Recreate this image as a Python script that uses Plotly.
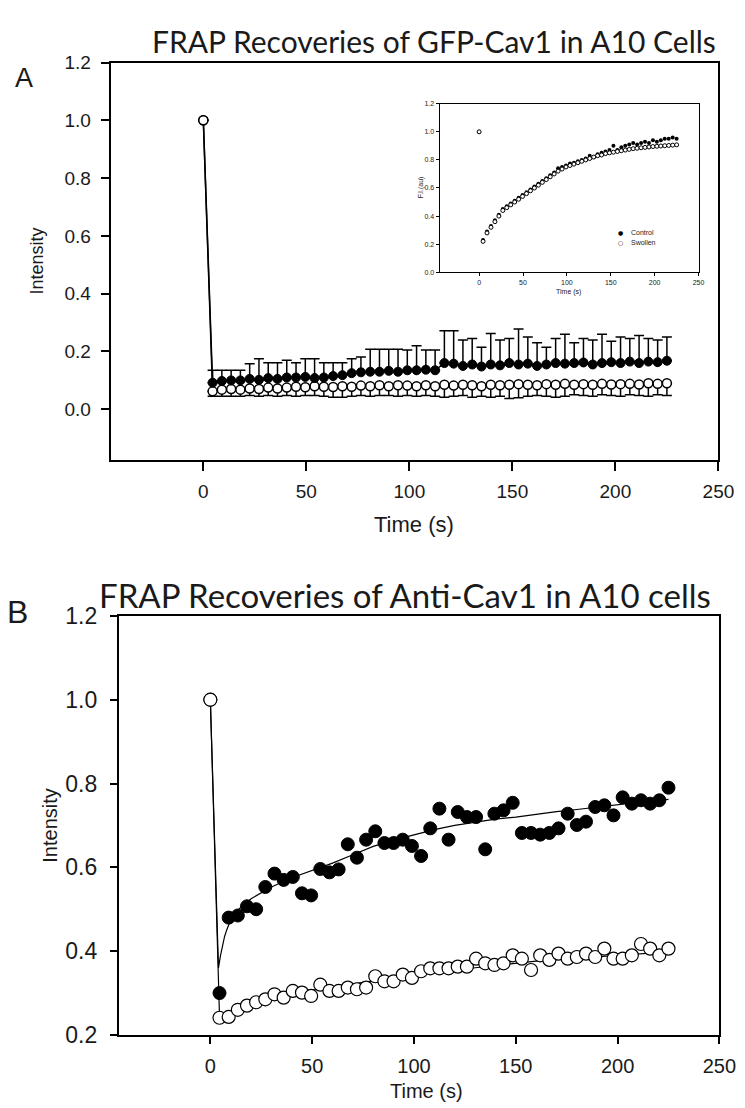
import plotly.graph_objects as go

# ---------------- data ----------------
time_s = [0, 4.5, 9, 13.5, 18, 22.5, 27, 31.5, 36, 40.5, 45, 49.5, 54, 58.5, 63, 67.5, 72,
          76.5, 81, 85.5, 90, 94.5, 99, 103.5, 108, 112.5, 117, 121.5, 126, 130.5, 135,
          139.5, 144, 148.5, 153, 157.5, 162, 166.5, 171, 175.5, 180, 184.5, 189, 193.5,
          198, 202.5, 207, 211.5, 216, 220.5, 225]

# Panel A: GFP-Cav1 (means and error-bar cap values)
a_control = [1.0, 0.092, 0.098, 0.100, 0.100, 0.105, 0.102, 0.108, 0.105, 0.110, 0.110,
             0.112, 0.108, 0.110, 0.115, 0.118, 0.125, 0.128, 0.130, 0.130, 0.133,
             0.130, 0.135, 0.135, 0.137, 0.135, 0.160, 0.158, 0.150, 0.155, 0.148,
             0.155, 0.152, 0.160, 0.155, 0.158, 0.150, 0.155, 0.160, 0.158, 0.160,
             0.162, 0.155, 0.160, 0.163, 0.160, 0.165, 0.160, 0.165, 0.163, 0.168]
a_control_cap = [1.0, 0.135, 0.135, 0.135, 0.135, 0.158, 0.175, 0.161, 0.161, 0.170, 0.161,
                 0.175, 0.175, 0.161, 0.161, 0.161, 0.175, 0.181, 0.208, 0.208, 0.208,
                 0.208, 0.205, 0.220, 0.205, 0.205, 0.272, 0.272, 0.240, 0.245, 0.215,
                 0.262, 0.240, 0.245, 0.278, 0.250, 0.230, 0.215, 0.245, 0.260, 0.230,
                 0.245, 0.240, 0.260, 0.235, 0.250, 0.245, 0.255, 0.245, 0.240, 0.250]
a_swollen = [1.0, 0.062, 0.068, 0.070, 0.068, 0.072, 0.070, 0.075, 0.072, 0.075, 0.078,
             0.076, 0.080, 0.078, 0.077, 0.080, 0.078, 0.082, 0.080, 0.083, 0.080,
             0.083, 0.082, 0.080, 0.083, 0.080, 0.085, 0.082, 0.085, 0.083, 0.080,
             0.085, 0.083, 0.085, 0.087, 0.085, 0.083, 0.087, 0.085, 0.088, 0.085,
             0.087, 0.085, 0.088, 0.086, 0.087, 0.088, 0.086, 0.090, 0.088, 0.090]
a_swollen_cap = [1.0, 0.045, 0.045, 0.045, 0.045, 0.048, 0.045, 0.048, 0.045, 0.048, 0.045,
                 0.048, 0.048, 0.045, 0.042, 0.042, 0.045, 0.048, 0.045, 0.048, 0.048,
                 0.045, 0.048, 0.045, 0.048, 0.045, 0.042, 0.045, 0.048, 0.042, 0.045,
                 0.042, 0.045, 0.037, 0.040, 0.045, 0.048, 0.045, 0.042, 0.045, 0.050,
                 0.048, 0.045, 0.050, 0.048, 0.045, 0.050, 0.048, 0.045, 0.050, 0.048]

# Inset (F.I. in au)
inset_control = [1.0, 0.23, 0.29, 0.33, 0.37, 0.41, 0.45, 0.47, 0.49, 0.51, 0.53,
                 0.55, 0.57, 0.59, 0.61, 0.63, 0.65, 0.67, 0.69, 0.71, 0.74,
                 0.75, 0.76, 0.775, 0.78, 0.79, 0.80, 0.81, 0.83, 0.82, 0.84,
                 0.85, 0.86, 0.87, 0.90, 0.87, 0.89, 0.90, 0.91, 0.92, 0.91,
                 0.92, 0.93, 0.92, 0.94, 0.93, 0.94, 0.95, 0.95, 0.96, 0.95]
inset_swollen = [1.0, 0.22, 0.28, 0.32, 0.36, 0.40, 0.44, 0.46, 0.48, 0.50, 0.52,
                 0.54, 0.56, 0.58, 0.60, 0.62, 0.64, 0.66, 0.68, 0.70, 0.72,
                 0.735, 0.75, 0.76, 0.77, 0.78, 0.79, 0.80, 0.81, 0.82, 0.83,
                 0.835, 0.845, 0.85, 0.855, 0.86, 0.865, 0.87, 0.875, 0.88, 0.883,
                 0.886, 0.889, 0.892, 0.895, 0.897, 0.899, 0.901, 0.903, 0.905, 0.907]
inset_legend = ["Control", "Swollen"]

# Panel B: Anti-Cav1
b_control = [1.0, 0.300, 0.480, 0.485, 0.507, 0.500, 0.553, 0.585, 0.570, 0.577, 0.538,
             0.533, 0.596, 0.588, 0.595, 0.655, 0.623, 0.666, 0.686, 0.658, 0.658,
             0.666, 0.651, 0.627, 0.693, 0.740, 0.666, 0.732, 0.720, 0.720, 0.643,
             0.728, 0.736, 0.754, 0.682, 0.682, 0.678, 0.682, 0.693, 0.728, 0.701,
             0.709, 0.744, 0.748, 0.724, 0.767, 0.752, 0.760, 0.752, 0.760, 0.790]
b_swollen = [1.0, 0.241, 0.243, 0.260, 0.270, 0.278, 0.285, 0.297, 0.289, 0.305, 0.301,
             0.293, 0.320, 0.305, 0.305, 0.313, 0.309, 0.313, 0.340, 0.328, 0.328,
             0.344, 0.336, 0.352, 0.359, 0.359, 0.359, 0.363, 0.363, 0.382, 0.371,
             0.367, 0.371, 0.390, 0.382, 0.355, 0.390, 0.379, 0.394, 0.382, 0.386,
             0.394, 0.386, 0.406, 0.382, 0.382, 0.390, 0.417, 0.406, 0.390, 0.406]

# Panel B fitted curves
fit_control_t = [0, 4, 5, 6, 7, 8, 10, 12, 15, 20, 25, 30, 40, 50, 60, 70, 80, 90, 100,
                 110, 120, 130, 140, 150, 160, 170, 180, 190, 200, 210, 225]
fit_control_v = [1.0, 0.36, 0.39, 0.415, 0.435, 0.45, 0.475, 0.49, 0.505, 0.525, 0.54,
                 0.553, 0.575, 0.593, 0.61, 0.63, 0.65, 0.665, 0.678, 0.69, 0.70, 0.708,
                 0.715, 0.72, 0.727, 0.733, 0.738, 0.744, 0.75, 0.755, 0.762]
fit_swollen_t = [0, 4.5, 10, 20, 30, 40, 50, 60, 70, 80, 90, 100, 120, 140, 160, 180, 200, 225]
fit_swollen_v = [1.0, 0.245, 0.255, 0.272, 0.287, 0.298, 0.307, 0.315, 0.322, 0.329, 0.336,
                 0.343, 0.355, 0.366, 0.376, 0.383, 0.39, 0.398]

x_ticks = [0, 50, 100, 150, 200, 250]
a_y_ticks = [0.0, 0.2, 0.4, 0.6, 0.8, 1.0, 1.2]
b_y_ticks = [0.2, 0.4, 0.6, 0.8, 1.0, 1.2]

# ---------------- figure ----------------
W, H = 745, 1108
fig = go.Figure()

def px_x(v):
    return v / W

def px_y(v):
    return 1 - v / H

ARIAL = "Liberation Sans, Arial, sans-serif"
NARROW = "Liberation Sans Narrow, Arial Narrow, Liberation Sans, sans-serif"
TITLE_FONT = "Lato, Open Sans, sans-serif"
INK = "#1a1a1a"

# Panel A traces
fig.add_trace(go.Scatter(
    x=time_s, y=a_swollen, mode="lines+markers", xaxis="x", yaxis="y",
    line=dict(color="black", width=1.5),
    marker=dict(symbol="circle", size=9, color="white", line=dict(color="black", width=1.5)),
    error_y=dict(type="data", symmetric=False,
                 array=[0 for _ in a_swollen],
                 arrayminus=[m - c for m, c in zip(a_swollen, a_swollen_cap)],
                 color="black", thickness=1.5, width=5),
    showlegend=False))
fig.add_trace(go.Scatter(
    x=time_s, y=a_control, mode="lines+markers", xaxis="x", yaxis="y",
    line=dict(color="black", width=1.5),
    marker=dict(symbol="circle", size=9, color="black", line=dict(color="black", width=1)),
    error_y=dict(type="data", symmetric=False,
                 array=[c - m for m, c in zip(a_control, a_control_cap)],
                 arrayminus=[0 for _ in a_control],
                 color="black", thickness=1.5, width=5),
    showlegend=False))
# redraw the first open point on top
fig.add_trace(go.Scatter(
    x=time_s[:1], y=a_swollen[:1], mode="markers", xaxis="x", yaxis="y",
    marker=dict(symbol="circle", size=9, color="white", line=dict(color="black", width=1.5)),
    showlegend=False))

# Inset traces
fig.add_trace(go.Scatter(
    x=time_s, y=inset_control, mode="markers", xaxis="x2", yaxis="y2", name=inset_legend[0],
    marker=dict(symbol="circle", size=4, color="black"), showlegend=False))
fig.add_trace(go.Scatter(
    x=time_s, y=inset_swollen, mode="markers", xaxis="x2", yaxis="y2", name=inset_legend[1],
    marker=dict(symbol="circle", size=4, color="white", line=dict(color="black", width=1)),
    showlegend=False))

# Panel B traces
fig.add_trace(go.Scatter(
    x=fit_control_t, y=fit_control_v, mode="lines", xaxis="x3", yaxis="y3",
    line=dict(color="black", width=1.2), showlegend=False))
fig.add_trace(go.Scatter(
    x=fit_swollen_t, y=fit_swollen_v, mode="lines", xaxis="x3", yaxis="y3",
    line=dict(color="black", width=1.2), showlegend=False))
fig.add_trace(go.Scatter(
    x=time_s, y=b_control, mode="markers", xaxis="x3", yaxis="y3",
    marker=dict(symbol="circle", size=13, color="black", line=dict(color="black", width=1)),
    showlegend=False))
fig.add_trace(go.Scatter(
    x=time_s, y=b_swollen, mode="markers", xaxis="x3", yaxis="y3",
    marker=dict(symbol="circle", size=13, color="white", line=dict(color="black", width=1.2)),
    showlegend=False))

axis_common = dict(showline=True, linecolor="black", linewidth=1.8, mirror=True,
                   ticks="outside", tickcolor="black", tickwidth=1.5,
                   showgrid=False, zeroline=False)
inset_axis = {**axis_common, "linewidth": 1.2, "tickwidth": 1}

fig.update_layout(
    width=W, height=H,
    margin=dict(l=0, r=0, t=0, b=0),
    paper_bgcolor="white", plot_bgcolor="white",
    showlegend=False,
    xaxis=dict(domain=[px_x(105), px_x(727)], range=[-45, 250], anchor="y",
               tickvals=x_ticks, ticklen=9, ticklabelstandoff=4,
               tickfont=dict(family=ARIAL, size=19, color=INK), **axis_common),
    yaxis=dict(domain=[px_y(450), px_y(42.5)], range=[-0.177, 1.2], anchor="x",
               tickvals=a_y_ticks, tickformat=".1f", ticklen=8, ticklabelstandoff=6,
               tickfont=dict(family=ARIAL, size=19, color=INK), **axis_common),
    xaxis2=dict(domain=[px_x(441.7), px_x(706.7)], range=[-45, 250], anchor="y2",
                tickvals=x_ticks, ticklen=3,
                tickfont=dict(family=ARIAL, size=7, color=INK), **inset_axis),
    yaxis2=dict(domain=[px_y(257.3), px_y(84.7)], range=[0, 1.2], anchor="x2",
                tickvals=a_y_ticks, tickformat=".1f", ticklen=3,
                tickfont=dict(family=ARIAL, size=7, color=INK), **inset_axis),
    xaxis3=dict(domain=[px_x(113.3), px_x(728)], range=[-45, 250], anchor="y3",
                tickvals=x_ticks, ticklen=7, ticklabelstandoff=5,
                tickfont=dict(family=ARIAL, size=20, color=INK), **axis_common),
    yaxis3=dict(domain=[px_y(1038.3), px_y(609.2)], range=[0.2, 1.2], anchor="x3",
                tickvals=b_y_ticks, tickformat=".1f", ticklen=7, ticklabelstandoff=8,
                tickfont=dict(family=NARROW, size=23, color=INK), **axis_common),
)

ann = [
    dict(text="FRAP Recoveries of GFP-Cav1 in A10 Cells", x=px_x(436), y=px_y(20),
         font=dict(family=TITLE_FONT, size=30, color=INK)),
    dict(text="A", x=px_x(16), y=px_y(58),
         font=dict(family=ARIAL, size=27, color=INK)),
    dict(text="Intensity", x=px_x(30), y=px_y(246), textangle=-90,
         font=dict(family=ARIAL, size=18, color=INK)),
    dict(text="Time (s)", x=px_x(415), y=px_y(516),
         font=dict(family=ARIAL, size=22, color=INK)),
    dict(text="F.I.(au)", x=px_x(423), y=px_y(170), textangle=-90,
         font=dict(family=ARIAL, size=7, color=INK)),
    dict(text="Time (s)", x=px_x(574), y=px_y(278),
         font=dict(family=ARIAL, size=7, color=INK)),
    # inset legend
    dict(text="\u25CF", x=px_x(627), y=px_y(216.7), font=dict(family="DejaVu Sans", size=6, color="black")),
    dict(text="\u25CB", x=px_x(627), y=px_y(226.7), font=dict(family="DejaVu Sans", size=6, color="black")),
    dict(text=inset_legend[0], x=px_x(636), y=px_y(216.7), xanchor="left",
         font=dict(family=ARIAL, size=7, color=INK)),
    dict(text=inset_legend[1], x=px_x(636), y=px_y(226.7), xanchor="left",
         font=dict(family=ARIAL, size=7, color=INK)),
    dict(text="FRAP Recoveries of Anti-Cav1 in A10 cells", x=px_x(406), y=px_y(588),
         font=dict(family=TITLE_FONT, size=33, color=INK)),
    dict(text="B", x=px_x(10), y=px_y(605),
         font=dict(family=NARROW, size=32, color=INK)),
    dict(text="Intensity", x=px_x(43), y=px_y(824), textangle=-90,
         font=dict(family=ARIAL, size=20, color=INK)),
    dict(text="Time (s)", x=px_x(428), y=px_y(1096),
         font=dict(family=ARIAL, size=20, color=INK)),
]
for a in ann:
    a.setdefault("xanchor", "center")
    a.update(xref="paper", yref="paper", showarrow=False, yanchor="middle")
fig.update_layout(annotations=ann)

fig.write_html("out.html")
